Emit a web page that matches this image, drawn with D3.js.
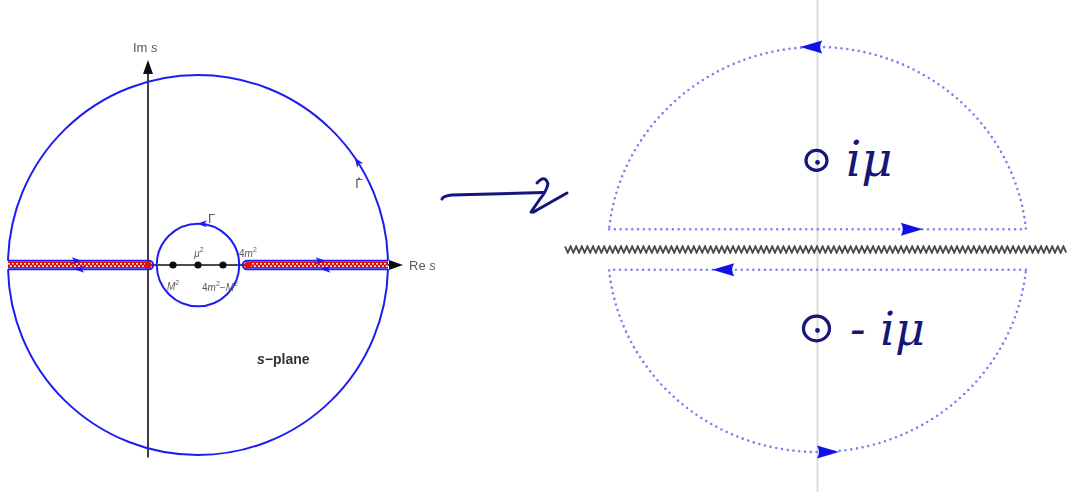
<!DOCTYPE html>
<html>
<head>
<meta charset="utf-8">
<script src="https://cdn.jsdelivr.net/npm/d3@7/dist/d3.min.js"></script>
<style>
  html, body { margin: 0; padding: 0; background: #fff; }
  svg { display: block; }
</style>
</head>
<body>
<svg id="fig" width="1067" height="492">
  <defs>
    <filter id="soft" x="-5%" y="-5%" width="110%" height="110%">
      <feGaussianBlur stdDeviation="0.45"/>
    </filter>
  </defs>
</svg>
<script>
// ---------- s-plane (left panel), values in units of the real axis ----------
const realAxisPoints = [1, 2, 3];                          // M², μ², 4m²−M²
const realAxisLabels = [["M", "2"], ["μ", "2"], ["4m", "2", "−M", "2"]];
const branchPoints = [0, 4];                               // ends of the two cuts
const branchLabel = ["4m", "2"];
const leftCut = [-5.6, 0];
const rightCut = [4, 9.6];
const bigContour = { center: 2, radius: 7.6 };
const smallContour = { center: 2, radius: 1.65 };
const cutHalfWidth = 0.17;
const axisRange = { xMax: 10.2, yMin: -7.7, yMax: 8.2 };

// ---------- ω-plane (right panel), normalised to the contour radius ----------
const gapHalfWidth = 0.1;                                  // contour lines above/below the cut
const poles = [{ y: 0.44, text: "iμ" }, { y: -0.39, text: "- iμ" }];
const rightArrows = [
  { x: -0.03, y: 1, dir: "left" },
  { x: 0.05, y: -1, dir: "right" },
  { x: 0.45, y: 0.1, dir: "right" },
  { x: -0.45, y: -0.1, dir: "left" }
];

const svg = d3.select("#fig");
const BLUE = "#1f1ff0";
const GREY = "#5a5a5a";
const INK = "#15157a";

// ===================== left panel =====================
const sx = d3.scaleLinear().domain([0, 10]).range([148, 398]);
const sy = d3.scaleLinear().domain([0, 10]).range([265, 15]);
const unit = sx(1) - sx(0);
const L = svg.append("g").attr("filter", "url(#soft)");

const arrowSmall = "M0,0 L-10,-3.6 L-7.5,0 L-10,3.6 Z";
function leftArrow(x, y, angleDeg) {
  L.append("path").attr("d", arrowSmall).attr("fill", BLUE)
    .attr("transform", `translate(${x},${y}) rotate(${angleDeg})`);
}

// axes
L.append("line").attr("x1", sx(0)).attr("x2", sx(0))
  .attr("y1", sy(axisRange.yMin)).attr("y2", sy(axisRange.yMax) + 8)
  .attr("stroke", "#111").attr("stroke-width", 1.6);
L.append("path").attr("d", `M${sx(0)},${sy(axisRange.yMax)} l-5,14 l10,0 Z`).attr("fill", "#111");
L.append("line").attr("x1", sx(0)).attr("x2", sx(axisRange.xMax) - 8)
  .attr("y1", sy(0)).attr("y2", sy(0))
  .attr("stroke", "#111").attr("stroke-width", 1.6);
L.append("path").attr("d", `M${sx(axisRange.xMax)},${sy(0)} l-14,-5 l0,10 Z`).attr("fill", "#111");

// big contour Γ̂, split where it meets the cut contours
const R = bigContour.radius * unit, cx0 = sx(bigContour.center), cy0 = sy(0);
const a = Math.asin(cutHalfWidth / bigContour.radius);
const upper = d3.path();
upper.arc(cx0, cy0, R, -a, -Math.PI + a, true);
const lower = d3.path();
lower.arc(cx0, cy0, R, a, Math.PI - a, false);
[upper, lower].forEach(p => L.append("path").attr("d", p.toString())
  .attr("fill", "none").attr("stroke", BLUE).attr("stroke-width", 2));

// small contour Γ
L.append("circle").attr("cx", sx(smallContour.center)).attr("cy", sy(0))
  .attr("r", smallContour.radius * unit)
  .attr("fill", "none").attr("stroke", BLUE).attr("stroke-width", 2);
leftArrow(sx(smallContour.center) - 1, sy(smallContour.radius), 180);

// cuts: red/white band wrapped by a keyhole contour
function cut(range, innerEnd) {
  const [x0, x1] = range;
  L.append("line").attr("x1", sx(x0)).attr("x2", sx(x1)).attr("y1", sy(0)).attr("y2", sy(0))
    .attr("stroke", "#e01010").attr("stroke-width", 6);
  [-1.3, 1.3].forEach((d, i) => L.append("line")
    .attr("x1", sx(x0)).attr("x2", sx(x1)).attr("y1", sy(0) + d).attr("y2", sy(0) + d)
    .attr("stroke", "#fff").attr("stroke-width", 1.6)
    .attr("stroke-dasharray", "1.8,2.2").attr("stroke-dashoffset", i * 2));
  const h = cutHalfWidth * unit;
  const inner = innerEnd === "right" ? x1 : x0;
  const outer = innerEnd === "right" ? x0 : x1;
  const s = innerEnd === "right" ? 1 : -1;
  const p = d3.path();
  p.moveTo(sx(outer), sy(0) - h);
  p.lineTo(sx(inner) + s * 1, sy(0) - h);
  p.arc(sx(inner) + s * 1, sy(0), h, -Math.PI / 2, Math.PI / 2, s < 0);
  p.lineTo(sx(outer), sy(0) + h);
  L.append("path").attr("d", p.toString()).attr("fill", "none")
    .attr("stroke", BLUE).attr("stroke-width", 2);
}
cut(leftCut, "right");
cut(rightCut, "left");

// branch points
branchPoints.forEach(b => L.append("circle").attr("cx", sx(b)).attr("cy", sy(0))
  .attr("r", 3.6).attr("fill", "#e81010"));

// arrows along the cut contours
leftArrow(sx(-2.85) + 5, sy(0) - cutHalfWidth * unit, 0);
leftArrow(sx(-2.75) - 5, sy(0) + cutHalfWidth * unit, 180);
leftArrow(sx(6.9) + 5, sy(0) - cutHalfWidth * unit, 0);
leftArrow(sx(7.1) - 5, sy(0) + cutHalfWidth * unit, 180);

// arrow on Γ̂ (counter-clockwise)
const th = 34.5 * Math.PI / 180;
leftArrow(cx0 + R * Math.cos(th), cy0 - R * Math.sin(th), -90 - 34.5);

// points on the real axis
realAxisPoints.forEach(v => L.append("circle").attr("cx", sx(v)).attr("cy", sy(0))
  .attr("r", 3.6).attr("fill", "#111"));

const lab = (x, y, size, anchor) => L.append("text").attr("x", x).attr("y", y)
  .attr("font-family", "Liberation Sans, Arial, sans-serif").attr("font-size", size)
  .attr("fill", GREY).attr("text-anchor", anchor || "start");

// label made of [base, exponent, base, exponent...]; letters in italic
function powers(t, parts) {
  parts.forEach((p, i) => {
    if (i % 2 === 1) {
      t.append("tspan").text(p).attr("font-size", 7).attr("dy", -5);
    } else {
      p.split(/([A-Za-zμ])/).filter(s => s.length).forEach((seg, j) => {
        const ts = t.append("tspan").text(seg);
        if (/^[A-Za-zμ]$/.test(seg)) ts.attr("font-style", "italic");
        if (i > 0 && j === 0) ts.attr("dy", 5);
      });
    }
  });
}
powers(lab(sx(realAxisPoints[0]), 290, 10, "middle"), realAxisLabels[0]);
powers(lab(sx(realAxisPoints[1]) + 1, 257, 10, "middle"), realAxisLabels[1]);
powers(lab(sx(realAxisPoints[2]) - 3, 291, 10, "middle"), realAxisLabels[2]);
powers(lab(sx(branchPoints[1]) - 9, 257, 10), branchLabel);

lab(sx(smallContour.center) + 10, 223, 13).text("Γ");
lab(355, 188, 13).attr("font-family", "DejaVu Sans, sans-serif").text("Γ\u0302");

{
  const t = lab(133, 52, 13);
  t.append("tspan").text("Im ");
  t.append("tspan").text("s").attr("font-style", "italic");
  const r = lab(409, 270, 13);
  r.append("tspan").text("Re ");
  r.append("tspan").text("s").attr("font-style", "italic");
  const p = lab(257, 364, 14).attr("fill", "#333").attr("font-weight", "bold");
  p.append("tspan").text("s").attr("font-style", "italic");
  p.append("tspan").text("−plane");
}

// ===================== hand-drawn map arrow =====================
const pen = d => svg.append("path").attr("d", d)
  .attr("fill", "none").attr("stroke", INK).attr("stroke-width", 3)
  .attr("stroke-linecap", "round").attr("stroke-linejoin", "round");
pen("M442,199 Q443,196 452,195 L471,194.5 L544,192.5");
pen("M537,183 Q545,174 548,184 Q546,192 540,199 L531,212 Q533,213 537,210 L567,193");

// ===================== right panel =====================
const wx = d3.scaleLinear().domain([-1, 1]).range([608, 1027]);
const wy = d3.scaleLinear().domain([-1, 1]).range([452, 47]);
const Rp = svg.append("g");
const rx = (wx(1) - wx(-1)) / 2, ry = (wy(-1) - wy(1)) / 2;

// imaginary axis
Rp.append("line").attr("x1", wx(0)).attr("x2", wx(0)).attr("y1", 0).attr("y2", 492)
  .attr("stroke", "#dcdcdc").attr("stroke-width", 2);

// cut along the real axis (zig-zag)
const zig = [];
for (let x = 565, k = 0; x <= 1067; x += 2.8, k++) zig.push([x, wy(0) + (k % 2 ? 3.2 : -3.2)]);
Rp.append("path").attr("d", d3.line()(zig)).attr("fill", "none")
  .attr("stroke", "#4a4a4a").attr("stroke-width", 1.8).attr("filter", "url(#soft)");

// dotted contour: upper and lower halves closed by lines hugging the cut
const ex = Math.sqrt(1 - gapHalfWidth * gapHalfWidth);
const upperHalf = `M${wx(-ex)},${wy(gapHalfWidth)} L${wx(ex)},${wy(gapHalfWidth)} ` +
  `A${rx},${ry} 0 0 0 ${wx(-ex)},${wy(gapHalfWidth)}`;
const lowerHalf = `M${wx(ex)},${wy(-gapHalfWidth)} L${wx(-ex)},${wy(-gapHalfWidth)} ` +
  `A${rx},${ry} 0 0 0 ${wx(ex)},${wy(-gapHalfWidth)}`;
[upperHalf, lowerHalf].forEach(d => Rp.append("path").attr("d", d)
  .attr("fill", "none").attr("stroke", "#7f7ff5").attr("stroke-width", 2.6)
  .attr("stroke-linecap", "round").attr("stroke-dasharray", "0,5.8"));

const arrowBig = "M0,0 L-22,-6.5 Q-18,0 -22,6.5 Z";
rightArrows.forEach(d => Rp.append("path").attr("d", arrowBig).attr("fill", "#1010e8")
  .attr("transform", `translate(${wx(d.x) + (d.dir === "right" ? 11 : -11)},${wy(d.y)}) rotate(${d.dir === "right" ? 0 : 180})`));

// poles: hand-drawn circled dots with labels
poles.forEach((p, i) => {
  const cx = wx(0) - 1, cy = wy(p.y);
  const r = i === 0 ? 10.5 : 13;
  Rp.append("ellipse").attr("cx", cx).attr("cy", cy).attr("rx", r).attr("ry", r * 0.95)
    .attr("fill", "none").attr("stroke", INK).attr("stroke-width", 3.2);
  Rp.append("circle").attr("cx", cx + 1).attr("cy", cy + 2).attr("r", 2.4).attr("fill", INK);
  Rp.append("text").attr("x", i === 0 ? 846 : 850).attr("y", cy + (i === 0 ? 16 : 17))
    .attr("font-family", "DejaVu Serif, serif").attr("font-style", "italic")
    .attr("font-size", i === 0 ? 48 : 46).attr("fill", INK).text(p.text);
});
</script>
</body>
</html>
